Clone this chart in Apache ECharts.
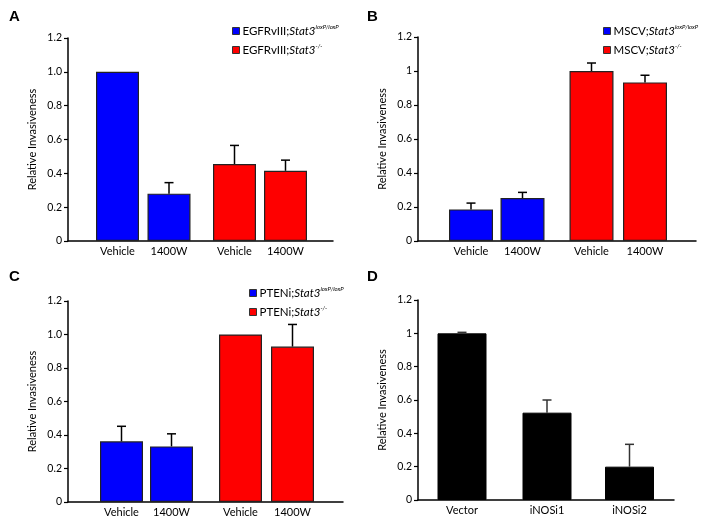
<!DOCTYPE html>
<html><head><meta charset="utf-8">
<script src="https://cdn.jsdelivr.net/npm/echarts@6/dist/echarts.min.js"></script>
<style>html,body{margin:0;padding:0;background:#fff}#c{width:701px;height:520px}</style>
</head><body><div id="c"></div>
<script>
// ---------- DATA ----------
const panelA_labels = ["Vehicle", "1400W", "Vehicle", "1400W"];
const panelA_values = [1.0, 0.28, 0.455, 0.415];
const panelA_errors = [0, 0.065, 0.11, 0.063];
const panelA_legend = [["EGFRvIII;", "Stat3", "loxP/loxP"], ["EGFRvIII;", "Stat3", "-/-"]];

const panelB_labels = ["Vehicle", "1400W", "Vehicle", "1400W"];
const panelB_values = [0.186, 0.253, 1.0, 0.933];
const panelB_errors = [0.037, 0.033, 0.047, 0.042];
const panelB_legend = [["MSCV;", "Stat3", "loxP/loxP"], ["MSCV;", "Stat3", "-/-"]];

const panelC_labels = ["Vehicle", "1400W", "Vehicle", "1400W"];
const panelC_values = [0.362, 0.332, 1.0, 0.928];
const panelC_errors = [0.09, 0.075, 0, 0.132];
const panelC_legend = [["PTENi;", "Stat3", "loxP/loxP"], ["PTENi;", "Stat3", "-/-"]];

const panelD_labels = ["Vector", "iNOSi1", "iNOSi2"];
const panelD_values = [1.0, 0.524, 0.2];
const panelD_errors = [0.006, 0.076, 0.134];

const yTicksDecimal = ["0", "0.2", "0.4", "0.6", "0.8", "1.0", "1.2"];
const yTicksPlain = ["0", "0.2", "0.4", "0.6", "0.8", "1", "1.2"];
const panelLetters = ["A", "B", "C", "D"];
const yAxisTitle = "Relative Invasiveness";

// ---------- LAYOUT ----------
const FONT = "Lato";
const grids = [
  { left: 68, top: 38, width: 265, height: 203 },
  { left: 418, top: 37, width: 278, height: 204 },
  { left: 68, top: 301, width: 275, height: 201 },
  { left: 418, top: 300, width: 256, height: 200 }
];
const xPositions = [
  [49.5, 101, 166.5, 217.5],
  [53, 104.5, 173.5, 227],
  [53.5, 103.5, 172.5, 224.5],
  [44, 129, 211.5]
];
const barWidths = [43, 44, 43, 49];
const legendPos = [
  { left: 232, top: 24 },
  { left: 603, top: 24 },
  { left: 249, top: 286 },
];
const letterPos = [
  { left: 4, top: 4 }, { left: 362, top: 4 }, { left: 4, top: 264 }, { left: 362, top: 264 }
];
const BLUE = "#0000fe", RED = "#fe0000", BLACK = "#000000";

const panels = [
  { labels: panelA_labels, values: panelA_values, errors: panelA_errors, legend: panelA_legend, ticks: yTicksDecimal },
  { labels: panelB_labels, values: panelB_values, errors: panelB_errors, legend: panelB_legend, ticks: yTicksPlain },
  { labels: panelC_labels, values: panelC_values, errors: panelC_errors, legend: panelC_legend, ticks: yTicksDecimal },
  { labels: panelD_labels, values: panelD_values, errors: panelD_errors, legend: null, ticks: yTicksPlain }
];

const legendParts = {};
const option = {
  animation: false,
  backgroundColor: "#fff",
  textStyle: { fontFamily: FONT },
  title: [], grid: [], xAxis: [], yAxis: [], series: [], legend: []
};

const rich = {
  n: { fontFamily: FONT, fontSize: 11.5, color: "#000", lineHeight: 14 },
  i: { fontFamily: FONT, fontSize: 11.5, fontStyle: "italic", color: "#000", lineHeight: 14 },
  s: { fontFamily: FONT, fontSize: 6, fontStyle: "italic", color: "#000", verticalAlign: "top", lineHeight: 14 }
};

panels.forEach((p, k) => {
  option.title.push({ text: panelLetters[k], left: letterPos[k].left, top: letterPos[k].top,
    textStyle: { fontFamily: "Liberation Sans", fontWeight: "bold", fontSize: 15, color: "#000" } });
  option.grid.push(Object.assign({ containLabel: false }, grids[k]));
  const pos = xPositions[k];
  option.xAxis.push({
    gridIndex: k, type: "value", min: 0, max: grids[k].width,
    splitLine: { show: false },
    axisTick: { show: false },
    axisLine: { show: true, onZero: false, lineStyle: { color: "#000", width: 1.5 } },
    axisLabel: {
      customValues: pos, margin: 5, color: "#000", fontSize: 11, fontFamily: FONT,
      formatter: (v) => { const i = pos.findIndex(q => Math.abs(q - v) < 1e-6); return i >= 0 ? p.labels[i] : ""; }
    }
  });
  option.yAxis.push({
    gridIndex: k, type: "value", min: 0, max: 1.2, interval: 0.2,
    splitLine: { show: false },
    axisLine: { show: true, lineStyle: { color: "#000", width: 1.5 } },
    axisTick: { show: true, length: 4, lineStyle: { color: "#000", width: 1.2 } },
    axisLabel: { color: "#000", fontSize: 10.5, fontFamily: FONT, margin: 6,
      formatter: (v) => p.ticks[Math.round(v / 0.2)] },
    name: yAxisTitle, nameLocation: "middle", nameGap: 30,
    nameTextStyle: { color: "#000", fontSize: 11, fontFamily: FONT }
  });

  const errData = [];
  if (p.legend) {
    const names = p.legend.map(parts => parts.join(" "));
    p.legend.forEach((parts, j) => { legendParts[names[j]] = parts; });
    [0, 1].forEach(g => {
      const idx = [2 * g, 2 * g + 1];
      option.series.push({
        name: names[g], type: "bar", xAxisIndex: k, yAxisIndex: k,
        barWidth: barWidths[k], barGap: "-100%",
        itemStyle: { color: g === 0 ? BLUE : RED, borderColor: "#222", borderWidth: 1.2 },
        data: idx.map(i => [pos[i], p.values[i]])
      });
    });
    option.legend.push({
      data: names, orient: "vertical", left: legendPos[k].left, top: legendPos[k].top,
      width: 120, padding: 0,
      icon: "rect", itemWidth: 7, itemHeight: 7, itemGap: 6, selectedMode: false,
      itemStyle: { borderColor: "#333", borderWidth: 1 },
      formatter: (name) => { const q = legendParts[name]; return "{n|" + q[0] + "}{i|" + q[1] + "}{s|" + q[2] + "}"; },
      textStyle: { rich: rich, padding: [0, 0, 0, -2] }
    });
  } else {
    option.series.push({
      name: "D", type: "bar", xAxisIndex: k, yAxisIndex: k, barWidth: barWidths[k],
      itemStyle: { color: BLACK, borderColor: "#000", borderWidth: 1 },
      data: p.values.map((v, i) => [pos[i], v])
    });
  }
  p.values.forEach((v, i) => { if (p.errors[i] > 0) errData.push([pos[i], v, p.errors[i]]); });
  option.series.push({
    type: "custom", xAxisIndex: k, yAxisIndex: k, z: 5, silent: true,
    data: errData,
    renderItem: (params, api) => {
      const x = api.value(0), v = api.value(1), e = api.value(2);
      const p0 = api.coord([x, v]), p1 = api.coord([x, v + e]);
      const st = { stroke: k === 3 ? "#333" : "#000", lineWidth: 1.5 };
      return { type: "group", children: [
        { type: "line", shape: { x1: p0[0], y1: p0[1], x2: p1[0], y2: p1[1] }, style: st },
        { type: "line", shape: { x1: p1[0] - 4.5, y1: p1[1], x2: p1[0] + 4.5, y2: p1[1] }, style: st }
      ]};
    }
  });
});

const chart = echarts.init(document.getElementById("c"), null, { renderer: "canvas" });
chart.setOption(option);
</script>
</body></html>
